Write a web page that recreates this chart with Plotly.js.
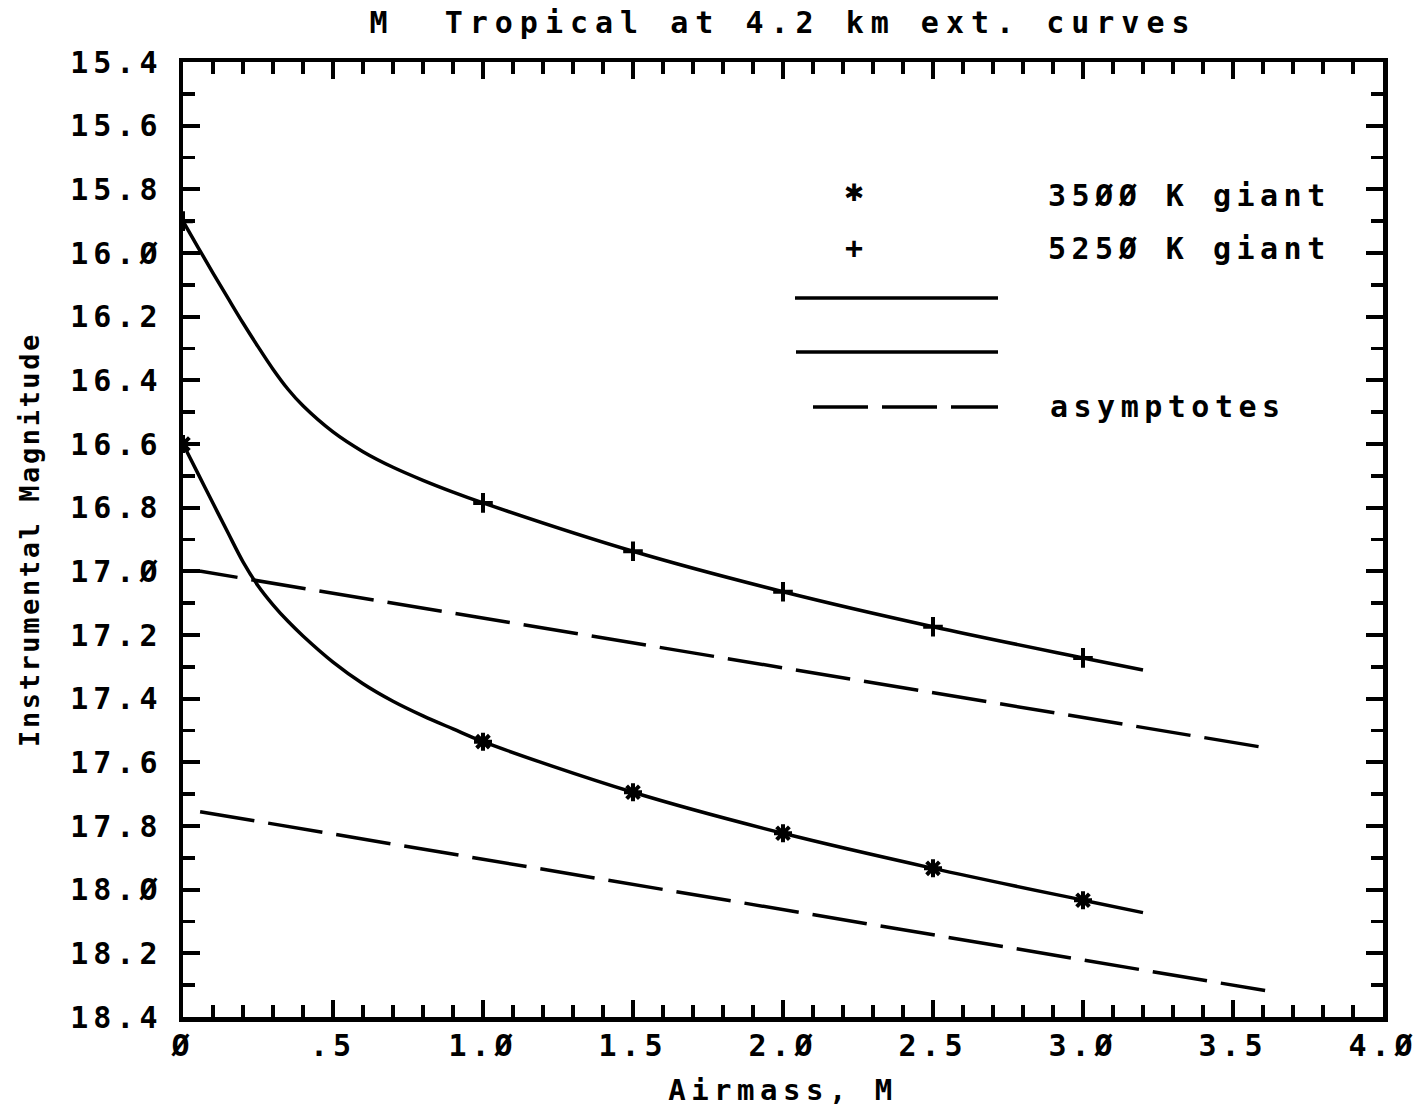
<!DOCTYPE html>
<html><head><meta charset="utf-8">
<script src="https://cdn.plot.ly/plotly-3.0.1.min.js"></script>
<style>
html,body{margin:0;padding:0;background:#fff;}
#chart{width:1424px;height:1107px;}
.xtick text,.ytick text{letter-spacing:5px;}
.gtitle{letter-spacing:7px;}
.xtitle{letter-spacing:5.5px;}
.ytitle{letter-spacing:2.6px;}
.annotation-text{letter-spacing:5.5px;}
</style></head><body><div id="chart"></div>
<script>
// ---- data ----
const chartTitle = "M\u00A0 Tropical at 4.2 km ext. curves";
const xTitle = "Airmass, M";
const yTitle = "Instrumental Magnitude";

const xTickVals = [0, 0.5, 1.0, 1.5, 2.0, 2.5, 3.0, 3.5, 4.0];
const xTickText = ["Ø", ".5", "1.Ø", "1.5", "2.Ø", "2.5", "3.Ø", "3.5", "4.Ø"];
const yTickVals = [15.4, 15.6, 15.8, 16.0, 16.2, 16.4, 16.6, 16.8, 17.0, 17.2, 17.4, 17.6, 17.8, 18.0, 18.2, 18.4];
const yTickText = ["15.4", "15.6", "15.8", "16.Ø", "16.2", "16.4", "16.6", "16.8", "17.Ø", "17.2", "17.4", "17.6", "17.8", "18.Ø", "18.2", "18.4"];

// 5250 K giant curve
const hotCurveX = [0, 0.05, 0.1, 0.15, 0.2, 0.25, 0.3, 0.35, 0.4, 0.5, 0.6, 0.7, 0.8, 0.9, 1.0, 1.5, 2.0, 2.5, 3.0, 3.2];
const hotCurveY = [15.90, 15.982, 16.063, 16.142, 16.220, 16.294, 16.365, 16.428, 16.480, 16.562, 16.624, 16.673, 16.714, 16.751, 16.785, 16.937, 17.064, 17.174, 17.272, 17.31];
// 3500 K giant curve
const coolCurveX = [0, 0.05, 0.1, 0.15, 0.2, 0.25, 0.3, 0.35, 0.4, 0.5, 0.6, 0.7, 0.8, 0.9, 1.0, 1.5, 2.0, 2.5, 3.0, 3.2];
const coolCurveY = [16.60, 16.693, 16.786, 16.879, 16.970, 17.045, 17.105, 17.157, 17.203, 17.285, 17.353, 17.408, 17.454, 17.495, 17.535, 17.694, 17.823, 17.933, 18.033, 18.072];

// computed points (markers)
const markerX = [0, 1.0, 1.5, 2.0, 2.5, 3.0];
const hotMarkY = [15.90, 16.785, 16.937, 17.064, 17.174, 17.272];
const coolMarkY = [16.60, 17.535, 17.694, 17.823, 17.933, 18.033];

// asymptotes
const hotAsymX = [0, 0.06, 3.6];
const hotAsymY = [17.0, 17.0, 17.553];
const coolAsymX = [0.057, 3.607];
const coolAsymY = [17.755, 18.317];

const legendLabels = ["35ØØ K giant", "525Ø K giant", "asymptotes"];

// ---- drawing ----
const FONT = "DejaVu Sans Mono, monospace";
const BLACK = "#000000";
const DASH = "55px,14px";

const traces = [
  {x: hotAsymX, y: hotAsymY, mode: "lines", line: {color: BLACK, width: 3.5, dash: DASH}, hoverinfo: "skip"},
  {x: coolAsymX, y: coolAsymY, mode: "lines", line: {color: BLACK, width: 3.5, dash: DASH}, hoverinfo: "skip"},
  {x: hotCurveX, y: hotCurveY, mode: "lines", line: {color: BLACK, width: 3.5, shape: "spline", smoothing: 1}},
  {x: coolCurveX, y: coolCurveY, mode: "lines", line: {color: BLACK, width: 3.5, shape: "spline", smoothing: 1}},
  {x: markerX, y: hotMarkY, mode: "markers",
   marker: {symbol: "cross-thin-open", size: 14, color: BLACK, line: {color: BLACK, width: 4}}},
  {x: markerX, y: coolMarkY, mode: "markers",
   marker: {symbol: "asterisk-open", size: 15, color: BLACK, line: {color: BLACK, width: 4}}}
];

function px2x(p) { return (p - 183) / 1200; }
function py2y(p) { return (1017 - p) / 955; }

const legendFont = {family: FONT, size: 30, color: BLACK, weight: "bold"};

const layout = {
  width: 1424, height: 1107,
  paper_bgcolor: "#ffffff", plot_bgcolor: "#ffffff",
  margin: {l: 183, r: 41, t: 62, b: 90},
  showlegend: false,
  font: {family: FONT, color: BLACK},
  title: {
    text: chartTitle, x: 0.5, xref: "paper", xanchor: "center",
    y: 1 - 22 / 1107, yref: "container", yanchor: "middle",
    font: {family: FONT, size: 30, color: BLACK, weight: "bold"}
  },
  xaxis: {
    range: [0, 4], tickmode: "array", tickvals: xTickVals, ticktext: xTickText,
    ticks: "inside", ticklen: 17, tickwidth: 4, tickcolor: BLACK,
    showline: true, linewidth: 4.5, linecolor: BLACK, mirror: "ticks",
    showgrid: false, zeroline: false, ticklabelstandoff: -2,
    tickfont: {family: FONT, size: 30, color: BLACK, weight: "bold"},
    minor: {dtick: 0.1, tick0: 0, ticks: "inside", ticklen: 12, tickwidth: 3.5, tickcolor: BLACK, showgrid: false},
    title: {text: xTitle, standoff: 22, font: {family: FONT, size: 29, color: BLACK, weight: "bold"}}
  },
  yaxis: {
    range: [18.4, 15.4], tickmode: "array", tickvals: yTickVals, ticktext: yTickText,
    ticks: "inside", ticklen: 17, tickwidth: 4, tickcolor: BLACK,
    showline: true, linewidth: 4.5, linecolor: BLACK, mirror: "ticks",
    showgrid: false, zeroline: false, ticklabelstandoff: 10,
    tickfont: {family: FONT, size: 30, color: BLACK, weight: "bold"},
    minor: {dtick: 0.1, tick0: 15.4, ticks: "inside", ticklen: 12, tickwidth: 3.5, tickcolor: BLACK, showgrid: false},
    title: {text: yTitle, standoff: 24, font: {family: FONT, size: 27, color: BLACK, weight: "bold"}}
  },
  shapes: [
    {type: "line", xref: "paper", yref: "paper", x0: px2x(795), x1: px2x(998), y0: py2y(298), y1: py2y(298), line: {color: BLACK, width: 3.5}},
    {type: "line", xref: "paper", yref: "paper", x0: px2x(796), x1: px2x(998), y0: py2y(352), y1: py2y(352), line: {color: BLACK, width: 3.5}},
    {type: "line", xref: "paper", yref: "paper", x0: px2x(813), x1: px2x(998), y0: py2y(407), y1: py2y(407), line: {color: BLACK, width: 3.5, dash: DASH}}
  ],
  annotations: [
    {xref: "paper", yref: "paper", x: px2x(857), y: py2y(193), text: "✱", showarrow: false, xanchor: "center", yanchor: "middle", font: {family: "DejaVu Sans", size: 24, color: BLACK}},
    {xref: "paper", yref: "paper", x: px2x(857), y: py2y(247), text: "+", showarrow: false, xanchor: "center", yanchor: "middle", font: {family: FONT, size: 30, color: BLACK, weight: "bold"}},
    {xref: "paper", yref: "paper", x: px2x(1046), y: py2y(195), text: legendLabels[0], showarrow: false, xanchor: "left", yanchor: "middle", font: legendFont},
    {xref: "paper", yref: "paper", x: px2x(1046), y: py2y(249), text: legendLabels[1], showarrow: false, xanchor: "left", yanchor: "middle", font: legendFont},
    {xref: "paper", yref: "paper", x: px2x(1048), y: py2y(406), text: legendLabels[2], showarrow: false, xanchor: "left", yanchor: "middle", font: legendFont}
  ]
};

Plotly.newPlot("chart", traces, layout, {staticPlot: true, displayModeBar: false});
</script>
</body></html>
